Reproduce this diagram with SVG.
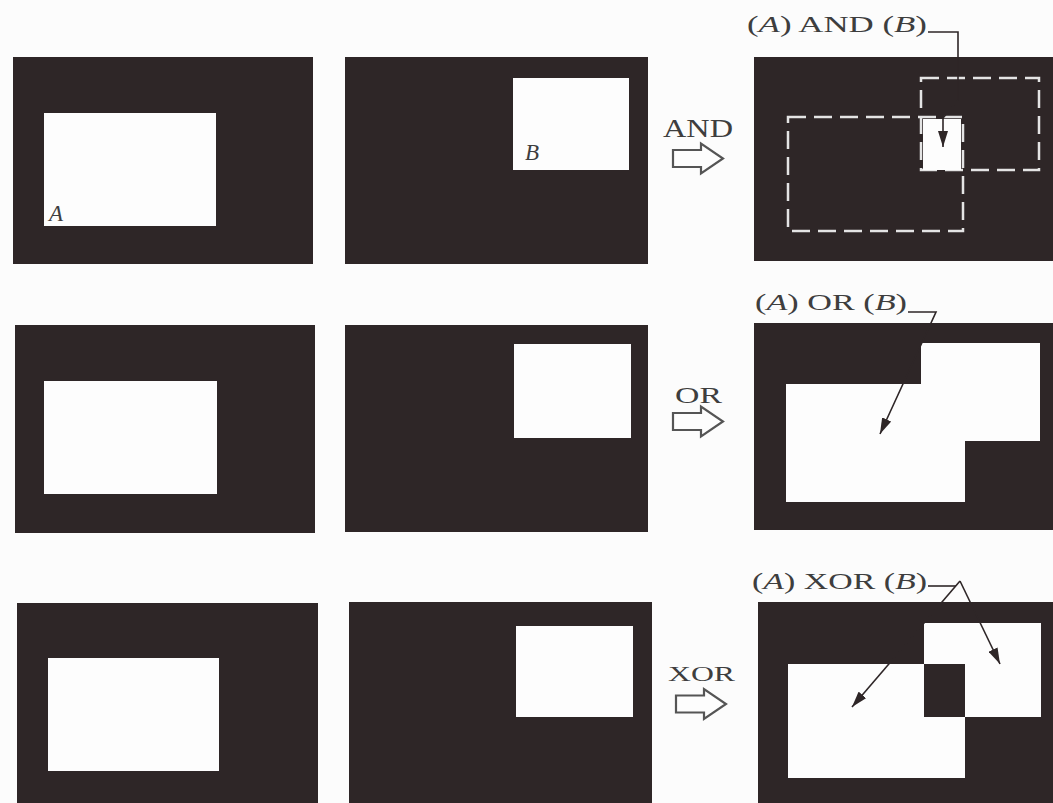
<svg xmlns="http://www.w3.org/2000/svg" width="1053" height="803" viewBox="0 0 1053 803">
<style>
.bg{fill:#fcfcfc}
.panel{fill:#2e2627}
.hole{fill:#fdfdfd}
.lbl{font-family:"Liberation Serif","Times New Roman",serif;fill:#3e3e3e}
.it{font-style:italic}
.dash{fill:none;stroke:#e4e4e4;stroke-width:2.5;stroke-dasharray:18 8}
.conn{fill:none;stroke:#2e2627;stroke-width:1.6}
.harrow{fill:#fdfdfd;stroke:#555;stroke-width:2.2;stroke-linejoin:miter}
</style>
<defs>
<marker id="ah" viewBox="0 0 16 10" refX="16" refY="5" markerWidth="16" markerHeight="10" markerUnits="userSpaceOnUse" orient="auto">
<path d="M0,0 L16,5 L0,10 Z" fill="#2e2627"/>
</marker>
<path id="hollow" class="harrow" d="M0,-8.5 H28 V-15 L50,0 L28,15 V8.5 H0 Z"/>
</defs>
<rect class="bg" x="0" y="0" width="1053" height="803"/>

<!-- Row 1 -->
<g id="panelA1">
<rect class="panel" x="13" y="57" width="300" height="207"/>
<rect class="hole" x="44" y="113" width="172" height="113"/>
<text class="lbl it" x="49" y="221" font-size="23">A</text>
</g>
<g id="panelB1">
<rect class="panel" x="345" y="57" width="303" height="207"/>
<rect class="hole" x="513" y="78" width="116" height="92"/>
<text class="lbl it" x="525" y="160" font-size="23">B</text>
</g>
<g id="opAND">
<text class="lbl" x="663" y="137" font-size="25" textLength="70" lengthAdjust="spacingAndGlyphs">AND</text>
<use href="#hollow" x="673" y="158.5"/>
</g>
<g id="resultAND">
<rect class="panel" x="754" y="57" width="299" height="204"/>
<rect class="dash" x="788" y="117" width="175" height="114"/>
<rect class="dash" x="921" y="78" width="118" height="92"/>
<rect class="hole" x="923" y="119" width="38" height="51"/>
<text class="lbl" x="747" y="32" font-size="24" textLength="180" lengthAdjust="spacingAndGlyphs">(<tspan class="it">A</tspan>) AND (<tspan class="it">B</tspan>)</text>
</g>

<!-- Row 2 -->
<g id="panelA2">
<rect class="panel" x="15" y="325" width="300" height="208"/>
<rect class="hole" x="44" y="381" width="173" height="113"/>
</g>
<g id="panelB2">
<rect class="panel" x="345" y="325" width="303" height="207"/>
<rect class="hole" x="514" y="344" width="117" height="94"/>
</g>
<g id="opOR">
<text class="lbl" x="675" y="403" font-size="23" textLength="47" lengthAdjust="spacingAndGlyphs">OR</text>
<use href="#hollow" x="673" y="421.5"/>
</g>
<g id="resultOR">
<rect class="panel" x="754" y="323" width="299" height="207"/>
<path class="hole" d="M921,343 H1040 V441 H965 V502 H786 V384 H921 Z"/>
<text class="lbl" x="755" y="310" font-size="23" textLength="152" lengthAdjust="spacingAndGlyphs">(<tspan class="it">A</tspan>) OR (<tspan class="it">B</tspan>)</text>
</g>

<!-- Row 3 -->
<g id="panelA3">
<rect class="panel" x="17" y="603" width="301" height="200"/>
<rect class="hole" x="48" y="658" width="171" height="113"/>
</g>
<g id="panelB3">
<rect class="panel" x="349" y="602" width="303" height="201"/>
<rect class="hole" x="516" y="626" width="117" height="91"/>
</g>
<g id="opXOR">
<text class="lbl" x="668" y="681" font-size="22" textLength="67" lengthAdjust="spacingAndGlyphs">XOR</text>
<use href="#hollow" x="676" y="704"/>
</g>
<g id="resultXOR">
<rect class="panel" x="758" y="602" width="295" height="201"/>
<path class="hole" fill-rule="evenodd" d="M788,664 H965 V778 H788 Z M924,623 H1041 V717 H924 Z"/>
<rect class="panel" x="924" y="664" width="41" height="53"/>
<text class="lbl" x="752" y="589" font-size="23" textLength="175" lengthAdjust="spacingAndGlyphs">(<tspan class="it">A</tspan>) XOR (<tspan class="it">B</tspan>)</text>
</g>

<!-- Connectors -->
<g id="connectors">
<path class="conn" d="M928,32 H958 V100 L943,118 V147" marker-end="url(#ah)"/>
<path class="conn" d="M908,312 H936 L880,434" marker-end="url(#ah)"/>
<path class="conn" d="M928,586 H956"/>
<path class="conn" d="M960,581 L852,707" marker-end="url(#ah)"/>
<path class="conn" d="M960,581 L1000,664" marker-end="url(#ah)"/>
</g>
</svg>
